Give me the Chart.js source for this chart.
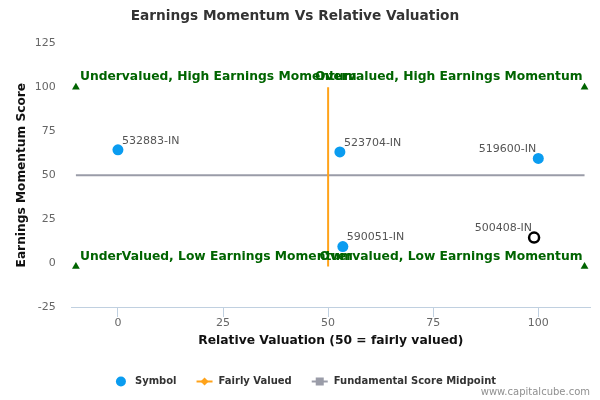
<!DOCTYPE html>
<html>
<head>
<meta charset="utf-8">
<title>Earnings Momentum Vs Relative Valuation</title>
<script src="https://cdn.jsdelivr.net/npm/chart.js@4.4.1/dist/chart.umd.min.js"></script>
<style>
	html, body { margin: 0; padding: 0; background: #fff; }
	#wrap { width: 600px; height: 400px; }
</style>
</head>
<body>
<div id="wrap"><canvas id="ScatterChart" width="600" height="400"></canvas></div>
<script>
// peer symbols
var symbolNames = ['532883-IN', '523704-IN', '519600-IN', '590051-IN'];
var symbolX = [0, 52.8, 100, 53.5];
var symbolY = [64.4, 63.2, 59.5, 9.4];

// the company itself (open circle)
var companyNames = ['500408-IN'];
var companyX = [99];
var companyY = [14.5];

// reference lines
var fairX = [50, 50];
var fairY = [100, -2];
var midX = [-10, 111];
var midY = [50, 50];

// quadrant markers
var quadrantNames = [
	'Undervalued, High Earnings Momentum',
	'Overvalued, High Earnings Momentum',
	'UnderValued, Low Earnings Momentum',
	'Overvalued, Low Earnings Momentum'
];
var quadrantX = [-10, 111, -10, 111];
var quadrantY = [100, 100, -2, -2];

var xTicks = [0, 25, 50, 75, 100];
var yTicks = [-25, 0, 25, 50, 75, 100, 125];
var legendNames = ['Symbol', 'Fairly Valued', 'Fundamental Score Midpoint'];

var FONT = '"DejaVu Sans", Verdana, sans-serif';

var toPoints = function(xs, ys) {
	return xs.map(function(x, i) {
		return { x: x, y: ys[i] };
	});
};

// @desc text next to points and quadrant markers, legend and credits
var labelPlugin = {
	id: 'labelPlugin',
	afterDatasetsDraw: function(chart) {
		var ctx = chart.ctx;
		ctx.save();

		// point labels
		ctx.font = '11px ' + FONT;
		ctx.fillStyle = '#555555';
		ctx.textBaseline = 'middle';
		[[0, symbolNames, symbolX], [1, companyNames, companyX]].forEach(function(set) {
			chart.getDatasetMeta(set[0]).data.forEach(function(el, i) {
				if (set[2][i] > 90) {
					ctx.textAlign = 'right';
					ctx.fillText(set[1][i], el.x - 2, el.y - 9);
				} else {
					ctx.textAlign = 'left';
					ctx.fillText(set[1][i], el.x + 4, el.y - 9);
				}
			});
		});

		// quadrant labels
		ctx.font = 'bold 12.3px ' + FONT;
		ctx.fillStyle = '#006400';
		chart.getDatasetMeta(4).data.forEach(function(el, i) {
			if (quadrantX[i] < 50) {
				ctx.textAlign = 'left';
				ctx.fillText(quadrantNames[i], el.x + 4, el.y - 10);
			} else {
				ctx.textAlign = 'right';
				ctx.fillText(quadrantNames[i], el.x - 2, el.y - 10);
			}
		});
		ctx.restore();
	},
	afterDraw: function(chart) {
		var ctx = chart.ctx;
		ctx.save();
		ctx.font = 'bold 10px ' + FONT;
		ctx.textBaseline = 'middle';
		ctx.textAlign = 'left';

		var symW = 16, gapText = 6, gapItem = 20, ly = 381.5;
		var widths = legendNames.map(function(n) { return ctx.measureText(n).width; });
		var total = widths.reduce(function(a, w) { return a + symW + gapText + w; }, 0) + gapItem * (legendNames.length - 1);
		var lx = 304.5 - total / 2;

		legendNames.forEach(function(name, i) {
			var cx = lx + symW / 2;
			if (i === 0) {
				ctx.fillStyle = '#0a9cf0';
				ctx.beginPath();
				ctx.arc(cx, ly, 5, 0, Math.PI * 2);
				ctx.fill();
			} else if (i === 1) {
				ctx.strokeStyle = '#ffa31a';
				ctx.lineWidth = 2;
				ctx.beginPath();
				ctx.moveTo(lx, ly);
				ctx.lineTo(lx + symW, ly);
				ctx.stroke();
				ctx.fillStyle = '#ffa31a';
				ctx.beginPath();
				ctx.moveTo(cx, ly - 4);
				ctx.lineTo(cx + 4, ly);
				ctx.lineTo(cx, ly + 4);
				ctx.lineTo(cx - 4, ly);
				ctx.closePath();
				ctx.fill();
			} else {
				ctx.strokeStyle = '#9a9ca8';
				ctx.lineWidth = 2;
				ctx.beginPath();
				ctx.moveTo(lx, ly);
				ctx.lineTo(lx + symW, ly);
				ctx.stroke();
				ctx.fillStyle = '#9a9ca8';
				ctx.fillRect(cx - 4, ly - 4, 8, 8);
			}
			ctx.fillStyle = '#333333';
			ctx.fillText(name, lx + symW + gapText, ly);
			lx += symW + gapText + widths[i] + gapItem;
		});

		// credits
		ctx.font = '10px ' + FONT;
		ctx.fillStyle = '#909090';
		ctx.textAlign = 'right';
		ctx.fillText('www.capitalcube.com', 590, 392.5);
		ctx.restore();
	}
};

var ScatterChart = new Chart(document.getElementById('ScatterChart'), {
	type: 'scatter',
	data: {
		datasets: [
			{
				label: legendNames[0],
				data: toPoints(symbolX, symbolY),
				backgroundColor: '#0a9cf0',
				borderWidth: 0,
				pointRadius: 5.5,
				pointHoverRadius: 5.5
			},
			{
				label: 'Company',
				data: toPoints(companyX, companyY),
				backgroundColor: '#ffffff',
				borderColor: '#000000',
				borderWidth: 2.5,
				pointRadius: 5,
				pointHoverRadius: 5
			},
			{
				label: legendNames[1],
				data: toPoints(fairX, fairY),
				showLine: true,
				borderColor: '#ffa31a',
				borderWidth: 2,
				pointRadius: 0,
				pointHoverRadius: 0
			},
			{
				label: legendNames[2],
				data: toPoints(midX, midY),
				showLine: true,
				borderColor: '#9a9ca8',
				borderWidth: 2,
				pointRadius: 0,
				pointHoverRadius: 0
			},
			{
				label: 'Quadrants',
				data: toPoints(quadrantX, quadrantY),
				pointStyle: 'triangle',
				backgroundColor: '#006400',
				borderColor: '#006400',
				borderWidth: 0,
				pointRadius: 4.5,
				pointHoverRadius: 4.5
			}
		]
	},
	options: {
		responsive: false,
		animation: false,
		events: [],
		layout: {
			padding: { left: 0, right: 10, top: 0, bottom: 48 }
		},
		plugins: {
			legend: { display: false },
			tooltip: { enabled: false },
			title: {
				display: true,
				text: 'Earnings Momentum Vs Relative Valuation',
				color: '#333333',
				font: { family: FONT, size: 13.7, weight: 'bold' },
				padding: { top: 7.8, bottom: 19.06 }
			}
		},
		scales: {
			x: {
				type: 'linear',
				min: -11,
				max: 112.3,
				afterBuildTicks: function(scale) {
					scale.ticks = xTicks.map(function(v) { return { value: v }; });
				},
				afterFit: function(scale) {
					scale.height = 45;
				},
				grid: {
					display: true,
					drawOnChartArea: false,
					drawTicks: true,
					tickLength: 10,
					color: '#c0d0e0'
				},
				border: { display: true, color: '#c0d0e0', width: 1 },
				ticks: {
					padding: 0,
					color: '#666666',
					font: { family: FONT, size: 11 },
					maxRotation: 0
				},
				title: {
					display: true,
					text: 'Relative Valuation (50 = fairly valued)',
					color: '#111111',
					font: { family: FONT, size: 12.3, weight: 'bold' },
					padding: { top: 0, bottom: 3.6 }
				}
			},
			y: {
				type: 'linear',
				min: -25,
				max: 125,
				afterBuildTicks: function(scale) {
					scale.ticks = yTicks.map(function(v) { return { value: v }; });
				},
				afterFit: function(scale) {
					scale.width = 71.7;
				},
				grid: { display: false, drawTicks: false },
				border: { display: false },
				ticks: {
					padding: 16,
					color: '#666666',
					font: { family: FONT, size: 11 }
				},
				title: {
					display: true,
					text: 'Earnings Momentum Score',
					color: '#111111',
					font: { family: FONT, size: 12.2, weight: 'bold' },
					padding: { top: 14.7, bottom: 0 }
				}
			}
		}
	},
	plugins: [labelPlugin]
});
</script>
</body>
</html>
